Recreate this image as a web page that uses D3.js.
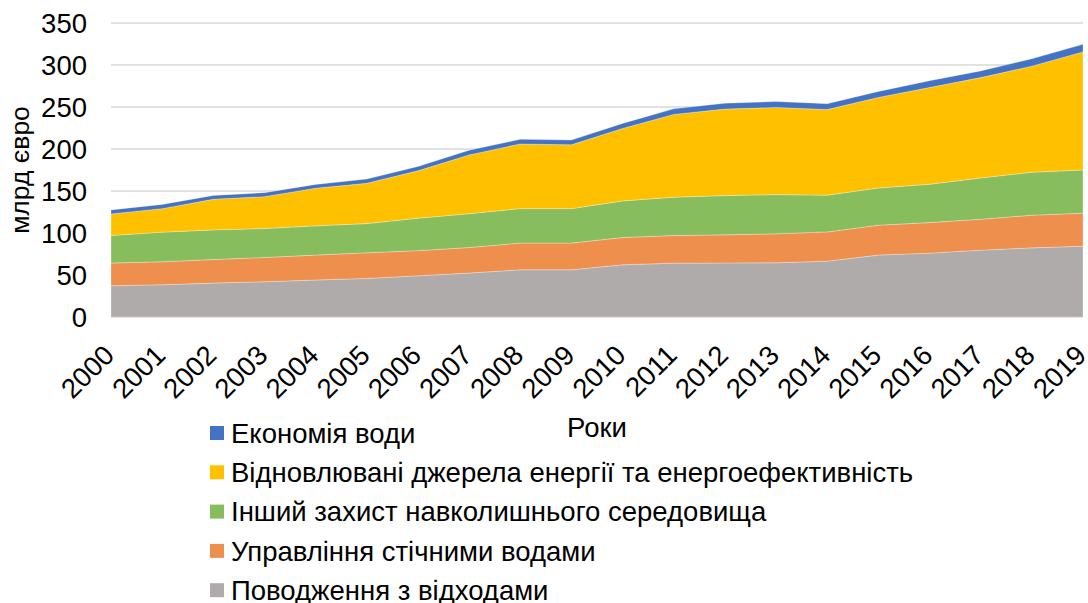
<!DOCTYPE html>
<html lang="uk">
  <head>
    <meta charset="utf-8" />
    <script src="https://d3js.org/d3.v7.min.js"></script>
    <style>
      body { margin: 0; background: #fff; }
      text { font-family: "Liberation Sans", Arial, sans-serif; fill: #000; }
    </style>
  </head>
  <body>
    <script>
      // years on the x axis
      var years = [2000, 2001, 2002, 2003, 2004, 2005, 2006, 2007, 2008, 2009,
        2010, 2011, 2012, 2013, 2014, 2015, 2016, 2017, 2018, 2019];

      // series values, bn euro, bottom layer first
      var waste = [37.2, 38.4, 40.4, 42, 44, 45.9, 49, 52.3, 56.2, 56.2,
        62.1, 64.1, 64.3, 64.5, 66.5, 73.7, 76, 79.6, 82.3, 84.3];
      var wastewater = [27, 27.3, 28, 28.8, 29.7, 30.5, 30, 30.4, 31.8, 31.8,
        32.5, 32.9, 33.5, 34.5, 34.8, 35.6, 36.4, 36.8, 38.9, 39.3];
      var otherProtection = [32.8, 35.3, 35.3, 34.5, 34.8, 34.8, 38.6, 40.3, 41, 41,
        43.6, 45.6, 46.7, 46.7, 43.7, 44.3, 45.6, 49.1, 51.1, 51.4];
      var renewables = [25.7, 28, 36.5, 38, 44.8, 48, 56.4, 70, 77, 76,
        86.3, 98.6, 103, 103.8, 102, 107.8, 115.2, 119.5, 126.3, 140.6];
      var waterSaving = [4.8, 5, 4.5, 4.7, 4.5, 5, 5.2, 5.5, 5.5, 5.6,
        6, 6.6, 7, 7, 7, 7, 8, 8, 8.7, 9];

      var yTicks = [0, 50, 100, 150, 200, 250, 300, 350];

      // legend labels (top to bottom as in the legend)
      var legendLabels = [
        "Економія води",
        "Відновлювані джерела енергії та енергоефективність",
        "Інший захист навколишнього середовища",
        "Управління стічними водами",
        "Поводження з відходами"
      ];

      var keys = ["waste", "wastewater", "other", "renew", "water"];
      var colors = {
        waste: "#AFABAB",
        wastewater: "#EF8F4E",
        other: "#88BD5E",
        renew: "#FFC000",
        water: "#4472C4"
      };

      var rows = years.map(function (y, i) {
        return {
          year: y,
          waste: waste[i],
          wastewater: wastewater[i],
          other: otherProtection[i],
          renew: renewables[i],
          water: waterSaving[i]
        };
      });

      var width = 1088,
        height = 603;
      var plotL = 111, plotR = 1083, plotT = 23, plotB = 317;
      var fs = "27.5px";

      var svg = d3.select("body").append("svg")
        .attr("width", width)
        .attr("height", height);

      var x = d3.scaleLinear().domain([2000, 2019]).range([plotL, plotR]);
      var y = d3.scaleLinear().domain([0, 350]).range([plotB, plotT]);

      // gridlines
      svg.append("g")
        .selectAll("line")
        .data(yTicks)
        .join("line")
        .attr("x1", plotL)
        .attr("x2", plotR)
        .attr("y1", function (d) { return y(d); })
        .attr("y2", function (d) { return y(d); })
        .attr("stroke", "#D9D9D9")
        .attr("stroke-width", 1.5);

      var series = d3.stack().keys(keys)(rows);

      var area = d3.area()
        .x(function (d) { return x(d.data.year); })
        .y0(function (d) { return y(d[0]); })
        .y1(function (d) { return y(d[1]); });

      svg.append("g")
        .selectAll("path")
        .data(series)
        .join("path")
        .attr("d", area)
        .attr("fill", function (d) { return colors[d.key]; })
        .attr("stroke", "#fff")
        .attr("stroke-opacity", 0.35)
        .attr("stroke-width", 0.8);

      // y axis labels
      svg.append("g")
        .selectAll("text")
        .data(yTicks)
        .join("text")
        .attr("x", 87)
        .attr("y", function (d) { return y(d); })
        .attr("dy", "0.35em")
        .attr("text-anchor", "end")
        .style("font-size", fs)
        .text(function (d) { return d; });

      // x axis labels, rotated
      svg.append("g")
        .selectAll("text")
        .data(years)
        .join("text")
        .attr("transform", function (d) {
          return "translate(" + (x(d) - 2) + ",350) rotate(-45)";
        })
        .attr("text-anchor", "end")
        .attr("dy", "0.35em")
        .style("font-size", fs)
        .text(function (d) { return d; });

      // axis titles
      svg.append("text")
        .attr("transform", "translate(29,170) rotate(-90)")
        .attr("text-anchor", "middle")
        .style("font-size", "26.5px")
        .text("млрд євро");

      svg.append("text")
        .attr("x", 597)
        .attr("y", 437)
        .attr("text-anchor", "middle")
        .style("font-size", fs)
        .text("Роки");

      // legend
      var legendKeys = keys.slice().reverse();
      var lg = svg.append("g")
        .selectAll("g")
        .data(legendKeys)
        .join("g")
        .attr("transform", function (d, i) {
          return "translate(210," + (433 + i * 39.3) + ")";
        });

      lg.append("rect")
        .attr("x", 0)
        .attr("y", -7)
        .attr("width", 14)
        .attr("height", 14)
        .attr("fill", function (d) { return colors[d]; });

      lg.append("text")
        .attr("x", 21)
        .attr("dy", "0.35em")
        .style("font-size", fs)
        .text(function (d, i) { return legendLabels[i]; });
    </script>
  </body>
</html>
